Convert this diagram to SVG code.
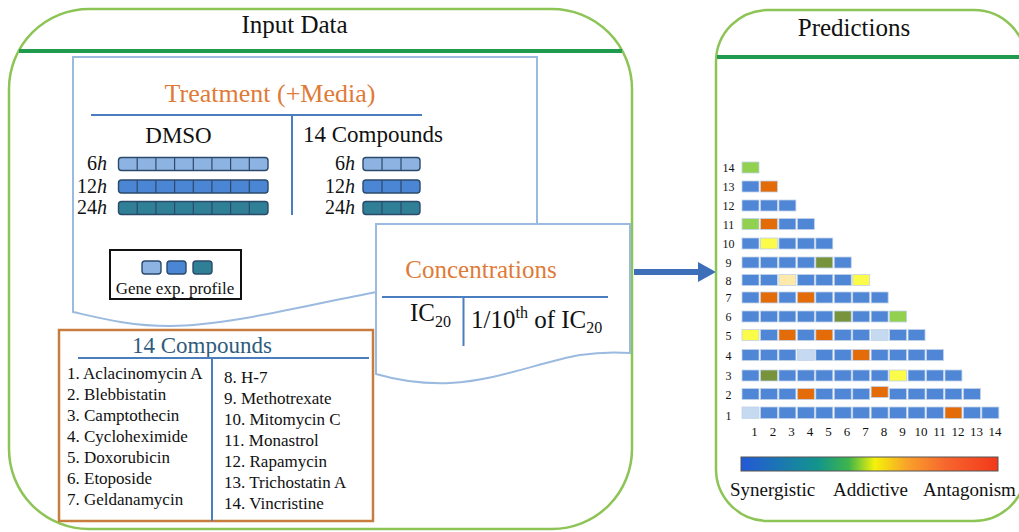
<svg xmlns="http://www.w3.org/2000/svg" width="1019" height="532" viewBox="0 0 1019 532">
<style>
text{font-family:"Liberation Serif","Times New Roman",serif;fill:#111}
.frame{fill:none;stroke:#8dc456;stroke-width:2.5}
.hdr{stroke:#1f9a4f;stroke-width:4}
.doc{fill:#fff;stroke:#9bbadf;stroke-width:2}
.bl{stroke:#4a7ebf;stroke-width:2;fill:none}
.orange{fill:#e07a37}
.bar{stroke:#2b4a6b;stroke-width:1.4}
.dv{stroke:#2b4a6b;stroke-width:1.2}
.c6{fill:#8db3e2}.c12{fill:#4a86d4}.c24{fill:#2f7f96}
.cell{stroke:#c3d3e8;stroke-width:0.8}
.b{fill:#4f87d6}.o{fill:#e36c09}.g{fill:#92d050}.ol{fill:#77933c}.y{fill:#fbfb4a}.py{fill:#fde9a9}.lb{fill:#c5d9f1}
.rl{font-size:12px;text-anchor:middle}
.xl{font-size:13px;text-anchor:middle}
.li{font-size:17px}
</style>
<defs>
<marker id="ah" markerUnits="userSpaceOnUse" markerWidth="18" markerHeight="20" refX="0" refY="10" orient="auto">
<path d="M0,0 L18,10 L0,20 Z" fill="#3d6fb8"/>
</marker>
<linearGradient id="grad" x1="0" y1="0" x2="1" y2="0">
<stop offset="0" stop-color="#2358d8"/>
<stop offset="0.3" stop-color="#12958c"/>
<stop offset="0.42" stop-color="#3fb54a"/>
<stop offset="0.52" stop-color="#f4f20a"/>
<stop offset="0.65" stop-color="#f9a02a"/>
<stop offset="0.8" stop-color="#f7652d"/>
<stop offset="1" stop-color="#f2381a"/>
</linearGradient>
</defs>
<rect width="1019" height="532" fill="#fff"/>

<g id="input-data">
<rect class="frame" x="9" y="9" width="623" height="520" rx="80"/>
<line class="hdr" x1="19" y1="51" x2="622" y2="51"/>
<text x="294.5" y="33" font-size="25" text-anchor="middle">Input Data</text>
</g>

<g id="treatment">
<path class="doc" d="M73,57 H537 V290 C 470,282 420,285 377,292 C 320,302 230,326 170,326 C 130,326 100,318 73,312 Z"/>
<text class="orange" x="270" y="102" font-size="26" text-anchor="middle">Treatment (+Media)</text>
<line class="bl" x1="91" y1="115" x2="422" y2="115"/>
<line class="bl" x1="292" y1="115" x2="292" y2="215"/>
<text x="178.5" y="143" font-size="23" text-anchor="middle">DMSO</text>
<text x="303" y="142" font-size="23">14 Compounds</text>
<g font-size="20" text-anchor="end">
<text x="107" y="170">6<tspan font-style="italic">h</tspan></text>
<text x="107" y="193">12<tspan font-style="italic">h</tspan></text>
<text x="107" y="214">24<tspan font-style="italic">h</tspan></text>
<text x="355" y="170">6<tspan font-style="italic">h</tspan></text>
<text x="355" y="193">12<tspan font-style="italic">h</tspan></text>
<text x="355" y="214">24<tspan font-style="italic">h</tspan></text>
</g>
<rect class="bar c6" x="118.5" y="157.5" width="149.5" height="13" rx="3"/>
<rect class="bar c12" x="118.5" y="180" width="149.5" height="13" rx="3"/>
<rect class="bar c24" x="118.5" y="201.5" width="149.5" height="13" rx="3"/>
<g class="dv">
<path d="M137.2,157.5V170.5M155.9,157.5V170.5M174.6,157.5V170.5M193.3,157.5V170.5M211.9,157.5V170.5M230.6,157.5V170.5M249.3,157.5V170.5"/>
<path d="M137.2,180V193M155.9,180V193M174.6,180V193M193.3,180V193M211.9,180V193M230.6,180V193M249.3,180V193"/>
<path d="M137.2,201.5V214.5M155.9,201.5V214.5M174.6,201.5V214.5M193.3,201.5V214.5M211.9,201.5V214.5M230.6,201.5V214.5M249.3,201.5V214.5"/>
</g>
<rect class="bar c6" x="363" y="157.5" width="57" height="13" rx="3"/>
<rect class="bar c12" x="363" y="180" width="57" height="13" rx="3"/>
<rect class="bar c24" x="363" y="201.5" width="57" height="13" rx="3"/>
<g class="dv">
<path d="M382,157.5V170.5M401,157.5V170.5M382,180V193M401,180V193M382,201.5V214.5M401,201.5V214.5"/>
</g>
</g>

<g id="gene-legend">
<rect x="110" y="250" width="131" height="49" fill="#fff" stroke="#111" stroke-width="2"/>
<rect class="bar c6" x="142" y="261" width="19" height="13" rx="3"/>
<rect class="bar c12" x="167" y="261" width="19" height="13" rx="3"/>
<rect class="bar c24" x="193" y="261" width="19" height="13" rx="3"/>
<text x="175" y="294" font-size="17" text-anchor="middle">Gene exp. profile</text>
</g>

<g id="concentrations">
<path class="doc" d="M376,224 H630 V353 C 615,352 600,352 580,355 C 540,362 500,380 450,383 C 425,384 400,381 376,374 Z"/>
<text class="orange" x="481" y="278" font-size="25" text-anchor="middle">Concentrations</text>
<line class="bl" x1="382" y1="297" x2="608" y2="297"/>
<line class="bl" x1="463.5" y1="297" x2="463.5" y2="346"/>
<text x="410" y="321" font-size="25">IC<tspan font-size="16" dy="6">20</tspan></text>
<text x="471" y="328" font-size="25">1/10<tspan font-size="16" dy="-10">th</tspan><tspan dy="10"> of IC</tspan><tspan font-size="16" dy="5">20</tspan></text>
</g>

<g id="compounds-list">
<rect x="59" y="330" width="314" height="191" fill="#fff" stroke="#c77d3e" stroke-width="2.5"/>
<text x="202" y="353" font-size="23" text-anchor="middle" style="fill:#2f5c7e">14 Compounds</text>
<line class="bl" x1="78" y1="358" x2="369" y2="358"/>
<line class="bl" x1="212" y1="358" x2="212" y2="521"/>
<text class="li" x="67" y="379">1. Aclacinomycin A</text>
<text class="li" x="67" y="400">2. Blebbistatin</text>
<text class="li" x="67" y="421">3. Camptothecin</text>
<text class="li" x="67" y="442">4. Cycloheximide</text>
<text class="li" x="67" y="463">5. Doxorubicin</text>
<text class="li" x="67" y="484">6. Etoposide</text>
<text class="li" x="67" y="505">7. Geldanamycin</text>
<text class="li" x="224" y="383">8. H-7</text>
<text class="li" x="224" y="404">9. Methotrexate</text>
<text class="li" x="224" y="425">10. Mitomycin C</text>
<text class="li" x="224" y="446">11. Monastrol</text>
<text class="li" x="224" y="467">12. Rapamycin</text>
<text class="li" x="224" y="488">13. Trichostatin A</text>
<text class="li" x="224" y="509">14. Vincristine</text>
</g>

<g id="connectors">
<line x1="634" y1="272" x2="698" y2="272" stroke="#3d6fb8" stroke-width="6" marker-end="url(#ah)"/>
</g>

<g id="predictions">
<rect class="frame" x="716" y="10" width="310" height="511" rx="52"/>
<line class="hdr" x1="717" y1="57" x2="1019" y2="57"/>
<text x="854" y="36" font-size="25" text-anchor="middle">Predictions</text>
</g>

<g id="heatmap">
<g class="cell">
<rect class="g" x="742" y="162" width="17" height="11"/>

<rect class="b" x="742" y="181" width="17" height="11"/>
<rect class="o" x="760.45" y="181" width="17" height="11"/>

<rect class="b" x="742" y="200" width="17" height="11"/>
<rect class="b" x="760.45" y="200" width="17" height="11"/>
<rect class="b" x="778.9" y="200" width="17" height="11"/>

<rect class="g" x="742" y="218.5" width="17" height="11"/>
<rect class="o" x="760.45" y="218.5" width="17" height="11"/>
<rect class="b" x="778.9" y="218.5" width="17" height="11"/>
<rect class="b" x="797.35" y="218.5" width="17" height="11"/>

<rect class="b" x="742" y="238" width="17" height="11"/>
<rect class="y" x="760.45" y="238" width="17" height="11"/>
<rect class="b" x="778.9" y="238" width="17" height="11"/>
<rect class="b" x="797.35" y="238" width="17" height="11"/>
<rect class="b" x="815.8" y="238" width="17" height="11"/>

<rect class="b" x="742" y="257" width="17" height="11"/>
<rect class="b" x="760.45" y="257" width="17" height="11"/>
<rect class="b" x="778.9" y="257" width="17" height="11"/>
<rect class="b" x="797.35" y="257" width="17" height="11"/>
<rect class="ol" x="815.8" y="257" width="17" height="11"/>
<rect class="b" x="834.25" y="257" width="17" height="11"/>

<rect class="b" x="742" y="274.5" width="17" height="11"/>
<rect class="b" x="760.45" y="274.5" width="17" height="11"/>
<rect class="py" x="778.9" y="274.5" width="17" height="11"/>
<rect class="b" x="797.35" y="274.5" width="17" height="11"/>
<rect class="b" x="815.8" y="274.5" width="17" height="11"/>
<rect class="b" x="834.25" y="274.5" width="17" height="11"/>
<rect class="y" x="852.7" y="274.5" width="17" height="11"/>

<rect class="b" x="742" y="292" width="17" height="11"/>
<rect class="o" x="760.45" y="292" width="17" height="11"/>
<rect class="b" x="778.9" y="292" width="17" height="11"/>
<rect class="o" x="797.35" y="292" width="17" height="11"/>
<rect class="b" x="815.8" y="292" width="17" height="11"/>
<rect class="b" x="834.25" y="292" width="17" height="11"/>
<rect class="b" x="852.7" y="292" width="17" height="11"/>
<rect class="b" x="871.15" y="292" width="17" height="11"/>

<rect class="b" x="742" y="311" width="17" height="11"/>
<rect class="b" x="760.45" y="311" width="17" height="11"/>
<rect class="b" x="778.9" y="311" width="17" height="11"/>
<rect class="b" x="797.35" y="311" width="17" height="11"/>
<rect class="b" x="815.8" y="311" width="17" height="11"/>
<rect class="ol" x="834.25" y="311" width="17" height="11"/>
<rect class="b" x="852.7" y="311" width="17" height="11"/>
<rect class="b" x="871.15" y="311" width="17" height="11"/>
<rect class="g" x="889.6" y="311" width="17" height="11"/>

<rect class="y" x="742" y="329.5" width="17" height="11"/>
<rect class="b" x="760.45" y="329.5" width="17" height="11"/>
<rect class="o" x="778.9" y="329.5" width="17" height="11"/>
<rect class="b" x="797.35" y="329.5" width="17" height="11"/>
<rect class="o" x="815.8" y="329.5" width="17" height="11"/>
<rect class="b" x="834.25" y="329.5" width="17" height="11"/>
<rect class="b" x="852.7" y="329.5" width="17" height="11"/>
<rect class="lb" x="871.15" y="329.5" width="17" height="11"/>
<rect class="b" x="889.6" y="329.5" width="17" height="11"/>
<rect class="b" x="908.05" y="329.5" width="17" height="11"/>

<rect class="b" x="742" y="349.5" width="17" height="11"/>
<rect class="b" x="760.45" y="349.5" width="17" height="11"/>
<rect class="b" x="778.9" y="349.5" width="17" height="11"/>
<rect class="lb" x="797.35" y="349.5" width="17" height="11"/>
<rect class="b" x="815.8" y="349.5" width="17" height="11"/>
<rect class="b" x="834.25" y="349.5" width="17" height="11"/>
<rect class="o" x="852.7" y="349.5" width="17" height="11"/>
<rect class="b" x="871.15" y="349.5" width="17" height="11"/>
<rect class="b" x="889.6" y="349.5" width="17" height="11"/>
<rect class="b" x="908.05" y="349.5" width="17" height="11"/>
<rect class="b" x="926.5" y="349.5" width="17" height="11"/>

<rect class="b" x="742" y="370" width="17" height="11"/>
<rect class="ol" x="760.45" y="370" width="17" height="11"/>
<rect class="b" x="778.9" y="370" width="17" height="11"/>
<rect class="b" x="797.35" y="370" width="17" height="11"/>
<rect class="b" x="815.8" y="370" width="17" height="11"/>
<rect class="b" x="834.25" y="370" width="17" height="11"/>
<rect class="b" x="852.7" y="370" width="17" height="11"/>
<rect class="b" x="871.15" y="370" width="17" height="11"/>
<rect class="y" x="889.6" y="370" width="17" height="11"/>
<rect class="b" x="908.05" y="370" width="17" height="11"/>
<rect class="b" x="926.5" y="370" width="17" height="11"/>
<rect class="b" x="944.95" y="370" width="17" height="11"/>

<rect class="b" x="742" y="388.5" width="17" height="11"/>
<rect class="b" x="760.45" y="388.5" width="17" height="11"/>
<rect class="b" x="778.9" y="388.5" width="17" height="11"/>
<rect class="o" x="797.35" y="388.5" width="17" height="11"/>
<rect class="b" x="815.8" y="388.5" width="17" height="11"/>
<rect class="b" x="834.25" y="388.5" width="17" height="11"/>
<rect class="b" x="852.7" y="388.5" width="17" height="11"/>
<rect class="o" x="871.15" y="386.5" width="17" height="11"/>
<rect class="b" x="889.6" y="388.5" width="17" height="11"/>
<rect class="b" x="908.05" y="388.5" width="17" height="11"/>
<rect class="b" x="926.5" y="388.5" width="17" height="11"/>
<rect class="b" x="944.95" y="388.5" width="17" height="11"/>
<rect class="b" x="963.4" y="388.5" width="17" height="11"/>

<rect class="lb" x="742" y="407" width="17" height="11.5"/>
<rect class="b" x="760.45" y="407" width="17" height="11.5"/>
<rect class="b" x="778.9" y="407" width="17" height="11.5"/>
<rect class="b" x="797.35" y="407" width="17" height="11.5"/>
<rect class="b" x="815.8" y="407" width="17" height="11.5"/>
<rect class="b" x="834.25" y="407" width="17" height="11.5"/>
<rect class="b" x="852.7" y="407" width="17" height="11.5"/>
<rect class="b" x="871.15" y="407" width="17" height="11.5"/>
<rect class="b" x="889.6" y="407" width="17" height="11.5"/>
<rect class="b" x="908.05" y="407" width="17" height="11.5"/>
<rect class="b" x="926.5" y="407" width="17" height="11.5"/>
<rect class="o" x="944.95" y="407" width="17" height="11.5"/>
<rect class="b" x="963.4" y="407" width="17" height="11.5"/>
<rect class="b" x="981.85" y="407" width="17" height="11.5"/>
</g>
<text class="rl" x="728.5" y="172">14</text>
<text class="rl" x="728.5" y="191">13</text>
<text class="rl" x="728.5" y="210">12</text>
<text class="rl" x="728.5" y="228.5">11</text>
<text class="rl" x="728.5" y="248">10</text>
<text class="rl" x="728.5" y="267">9</text>
<text class="rl" x="728.5" y="284.5">8</text>
<text class="rl" x="728.5" y="302">7</text>
<text class="rl" x="728.5" y="321">6</text>
<text class="rl" x="728.5" y="339.5">5</text>
<text class="rl" x="728.5" y="359.5">4</text>
<text class="rl" x="728.5" y="380">3</text>
<text class="rl" x="728.5" y="398.5">2</text>
<text class="rl" x="728.5" y="420">1</text>
<text class="xl" x="754.5" y="436">1</text>
<text class="xl" x="773" y="436">2</text>
<text class="xl" x="791.5" y="436">3</text>
<text class="xl" x="810" y="436">4</text>
<text class="xl" x="828.5" y="436">5</text>
<text class="xl" x="847" y="436">6</text>
<text class="xl" x="865.5" y="436">7</text>
<text class="xl" x="884" y="436">8</text>
<text class="xl" x="902.5" y="436">9</text>
<text class="xl" x="921" y="436">10</text>
<text class="xl" x="939.5" y="436">11</text>
<text class="xl" x="958" y="436">12</text>
<text class="xl" x="976.5" y="436">13</text>
<text class="xl" x="995" y="436">14</text>
</g>

<g id="colorbar">
<rect x="741" y="457" width="257" height="14" fill="url(#grad)" stroke="#555" stroke-width="1"/>
<text x="730" y="496" font-size="19">Synergistic</text>
<text x="833" y="496" font-size="19">Addictive</text>
<text x="923" y="496" font-size="19">Antagonism</text>
</g>
</svg>
